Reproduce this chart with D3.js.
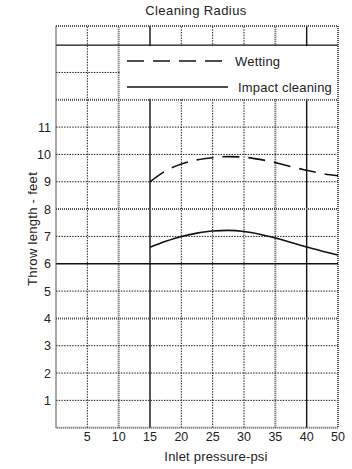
<!DOCTYPE html>
<html>
<head>
<meta charset="utf-8">
<script src="https://cdn.jsdelivr.net/npm/d3@7"></script>
<style>
  body { margin: 0; background: #fff; }
  text { font-family: "Liberation Sans", Arial, sans-serif; fill: #222; }
</style>
</head>
<body>
<div id="chart"></div>
<script>
// inlet pressure (psi) where the curves were read
const pressures = [15, 17.5, 20, 22.5, 25, 27.5, 30, 32.5, 35, 37.5, 40, 42.5, 45]
// throw length - feet
const wetting = [9.0, 9.4, 9.65, 9.8, 9.88, 9.92, 9.9, 9.82, 9.7, 9.55, 9.42, 9.3, 9.22]
const impact = [6.6, 6.82, 7.0, 7.12, 7.2, 7.22, 7.18, 7.08, 6.94, 6.78, 6.61, 6.46, 6.32]

const xTicks = [5, 10, 15, 20, 25, 30, 35, 40, 45]
const xTickLabels = ['5', '10', '15', '20', '25', '30', '35', '40', '50']
const yTicks = [1, 2, 3, 4, 5, 6, 7, 8, 9, 10, 11]
const yGrid = [1, 2, 3, 4, 5, 6, 7, 8, 9, 10, 11, 12, 13, 14]

const width = 352
const height = 469

const svg = d3.select('#chart')
    .append('svg')
    .attr('width', width)
    .attr('height', height)

const x = d3.scaleLinear().domain([0, 45]).range([56, 338])
const y = d3.scaleLinear().domain([0, 14.7]).range([427.7, 26])

// line styles for the grid
const solidX = [15, 40]
const heavyX = [10, 35]
const solidY = [6, 14]
const heavyY = [4, 8, 12]

function styleFor(solid, heavy, v) {
    if (solid.includes(v)) return { w: 1.4, dash: null, c: '#111' }
    if (heavy.includes(v)) return { w: 2, dash: '1,1', c: '#555' }
    return { w: 1, dash: '1.5,1.2', c: '#222' }
}

const grid = svg.append('g')

// vertical grid
xTicks.filter(d => d < 45).forEach(d => {
    const s = styleFor(solidX, heavyX, d)
    grid.append('line')
        .attr('x1', x(d)).attr('x2', x(d))
        .attr('y1', y(0)).attr('y2', y(14.7))
        .attr('stroke', s.c)
        .attr('stroke-width', s.w)
        .attr('stroke-dasharray', s.dash)
})

// horizontal grid
yGrid.forEach(d => {
    const s = styleFor(solidY, heavyY, d)
    grid.append('line')
        .attr('x1', x(0)).attr('x2', x(45))
        .attr('y1', y(d)).attr('y2', y(d))
        .attr('stroke', s.c)
        .attr('stroke-width', s.w)
        .attr('stroke-dasharray', s.dash)
})

// legend box blanks out the grid
grid.append('rect')
    .attr('x', x(10) + 1.2)
    .attr('y', y(14) + 1)
    .attr('width', x(45) - x(10) - 2.4)
    .attr('height', y(12) - y(14) - 2)
    .attr('fill', '#fff')

// frame
svg.append('rect')
    .attr('x', x(0)).attr('y', y(14.7))
    .attr('width', x(45) - x(0))
    .attr('height', y(0) - y(14.7))
    .attr('fill', 'none')
    .attr('stroke', '#555')
    .attr('stroke-width', 2)
    .attr('stroke-dasharray', '1,1')

// curves
const line = d3.line()
    .x((d, i) => x(pressures[i]))
    .y(d => y(d))
    .curve(d3.curveMonotoneX)

svg.append('path')
    .datum(wetting)
    .attr('d', line)
    .attr('fill', 'none')
    .attr('stroke', '#111')
    .attr('stroke-width', 1.6)
    .attr('stroke-dasharray', '17,9')

svg.append('path')
    .datum(impact)
    .attr('d', line)
    .attr('fill', 'none')
    .attr('stroke', '#111')
    .attr('stroke-width', 1.6)

// legend
const legend = svg.append('g')
legend.append('line')
    .attr('x1', 127).attr('x2', 228)
    .attr('y1', 61).attr('y2', 61)
    .attr('stroke', '#111').attr('stroke-width', 1.4)
    .attr('stroke-dasharray', '17,9')
legend.append('text')
    .attr('x', 235).attr('y', 65.5)
    .style('font-size', '13px')
    .style('letter-spacing', '0.2px')
    .text('Wetting')
legend.append('line')
    .attr('x1', 127).attr('x2', 228)
    .attr('y1', 87).attr('y2', 87)
    .attr('stroke', '#111').attr('stroke-width', 1.4)
legend.append('text')
    .attr('x', 238).attr('y', 91.5)
    .style('font-size', '13px')
    .style('letter-spacing', '0.2px')
    .text('Impact cleaning')

// tick labels
svg.append('g')
    .selectAll('text')
    .data(xTicks)
    .join('text')
    .attr('x', d => x(d))
    .attr('y', 441)
    .attr('text-anchor', 'middle')
    .style('font-size', '12.5px')
    .text((d, i) => xTickLabels[i])

svg.append('g')
    .selectAll('text')
    .data(yTicks)
    .join('text')
    .attr('x', 51)
    .attr('y', d => y(d) + 4.5)
    .attr('text-anchor', 'end')
    .style('font-size', '12.5px')
    .text(d => d)

// titles
svg.append('text')
    .attr('x', 196).attr('y', 14.5)
    .attr('text-anchor', 'middle')
    .style('font-size', '13px')
    .style('letter-spacing', '0.4px')
    .text('Cleaning Radius')

svg.append('text')
    .attr('x', 216).attr('y', 460.5)
    .attr('text-anchor', 'middle')
    .style('font-size', '13px')
    .style('letter-spacing', '0.2px')
    .text('Inlet pressure-psi')

svg.append('text')
    .attr('transform', 'translate(37,229) rotate(-90)')
    .attr('text-anchor', 'middle')
    .style('font-size', '13px')
    .style('letter-spacing', '0.3px')
    .text('Throw length - feet')
</script>
</body>
</html>
